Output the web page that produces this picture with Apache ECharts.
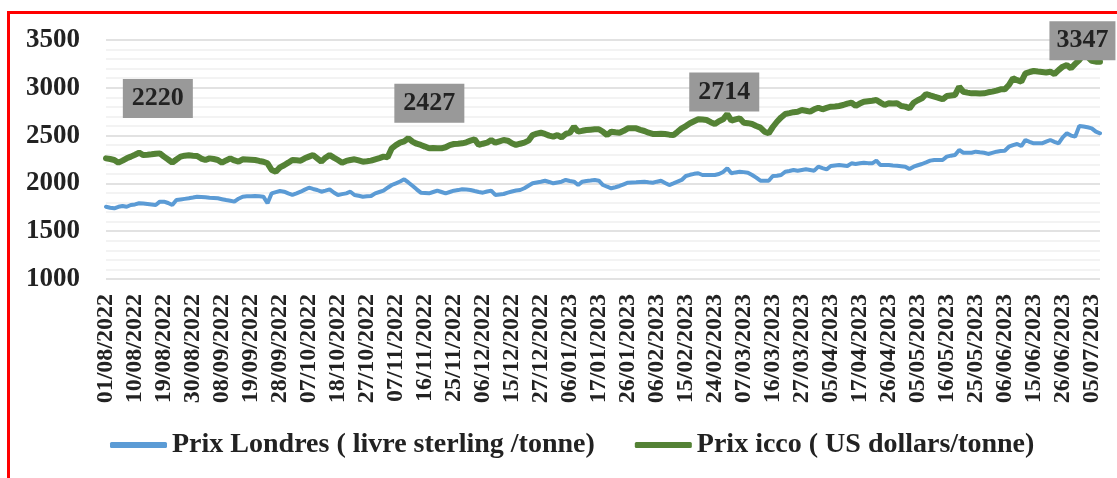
<!DOCTYPE html>
<html>
<head>
<meta charset="utf-8">
<script src="https://cdn.jsdelivr.net/npm/echarts@6/dist/echarts.min.js"></script>
<style>
  html, body { margin: 0; padding: 0; background: #fff; }
  #chart { width: 1117px; height: 478px; }
</style>
</head>
<body>
<div id="chart"></div>
<script>
// business days from 01/08/2022, a few market holidays skipped
const startDate = [2022, 7, 1];
const holidays = ['26/12/2022', '02/01/2023', '07/04/2023', '29/05/2023'];
const pointCount = 241;

// Prix Londres ( livre sterling /tonne)
const prixLondres = [
  1756, 1745, 1739, 1755, 1764, 1756, 1774, 1780, 1792, 1790,
  1785, 1780, 1774, 1809, 1809, 1795, 1774, 1826, 1832, 1838,
  1844, 1852, 1861, 1858, 1855, 1850, 1848, 1844, 1835, 1826,
  1818, 1809, 1840, 1861, 1865, 1866, 1868, 1865, 1861, 1792,
  1896, 1908, 1920, 1913, 1895, 1879, 1895, 1913, 1935, 1955,
  1942, 1931, 1913, 1925, 1938, 1905, 1879, 1888, 1896, 1913,
  1879, 1870, 1861, 1865, 1868, 1896, 1910, 1924, 1955, 1983,
  2001, 2020, 2043, 2010, 1975, 1938, 1903, 1900, 1896, 1910,
  1924, 1910, 1896, 1910, 1924, 1930, 1938, 1935, 1931, 1920,
  1910, 1903, 1915, 1924, 1879, 1885, 1889, 1903, 1915, 1925,
  1931, 1949, 1975, 2001, 2010, 2018, 2028, 2015, 2001, 2010,
  2018, 2036, 2025, 2018, 1983, 2018, 2025, 2030, 2036, 2028,
  1983, 1965, 1949, 1960, 1973, 1990, 2007, 2010, 2012, 2015,
  2018, 2012, 2007, 2018, 2028, 2005, 1983, 2000, 2018, 2036,
  2077, 2090, 2100, 2106, 2088, 2088, 2088, 2088, 2098, 2120,
  2158, 2106, 2115, 2122, 2118, 2112, 2088, 2060, 2028, 2028,
  2028, 2077, 2080, 2088, 2122, 2130, 2140, 2133, 2140, 2147,
  2140, 2133, 2175, 2160, 2147, 2182, 2188, 2192, 2188, 2182,
  2210, 2203, 2210, 2217, 2212, 2210, 2238, 2192, 2192, 2192,
  2188, 2185, 2180, 2175, 2150, 2175, 2190, 2203, 2220, 2238,
  2245, 2245, 2245, 2280, 2290, 2297, 2349, 2321, 2320, 2321,
  2332, 2326, 2321, 2308, 2320, 2332, 2338, 2342, 2384, 2400,
  2412, 2391, 2454, 2435, 2419, 2419, 2419, 2437, 2454, 2435,
  2419, 2482, 2524, 2500, 2489, 2600, 2595, 2587, 2576, 2541,
  2524
];

// Prix icco ( US dollars/tonne)
const prixIcco = [
  2262, 2255, 2245, 2217, 2238, 2262, 2280, 2300, 2321, 2297,
  2300, 2304, 2310, 2314, 2280, 2250, 2217, 2250, 2280, 2290,
  2294, 2290, 2287, 2260, 2245, 2262, 2255, 2245, 2217, 2240,
  2262, 2240, 2227, 2252, 2250, 2248, 2245, 2235, 2227, 2210,
  2140, 2122, 2168, 2190, 2217, 2245, 2242, 2238, 2262, 2280,
  2297, 2262, 2227, 2269, 2297, 2270, 2245, 2217, 2235, 2245,
  2252, 2240, 2227, 2232, 2238, 2252, 2265, 2280, 2273, 2367,
  2400, 2426, 2440, 2472, 2437, 2415, 2402, 2385, 2367, 2370,
  2367, 2367, 2378, 2400, 2412, 2415, 2419, 2430, 2447, 2461,
  2402, 2415, 2426, 2454, 2426, 2440, 2454, 2447, 2420, 2402,
  2415, 2426, 2447, 2506, 2520, 2530, 2517, 2500, 2489, 2506,
  2482, 2517, 2530, 2593, 2541, 2550, 2558, 2562, 2566, 2566,
  2540, 2506, 2541, 2535, 2530, 2550, 2576, 2576, 2576, 2560,
  2548, 2530, 2517, 2517, 2520, 2517, 2510, 2506, 2540, 2576,
  2600, 2629, 2650, 2670, 2668, 2663, 2640, 2621, 2650, 2670,
  2726, 2656, 2670, 2681, 2635, 2630, 2621, 2600, 2583, 2541,
  2524, 2590, 2645, 2690, 2726, 2735, 2745, 2750, 2768, 2760,
  2750, 2775, 2792, 2775, 2790, 2802, 2805, 2810, 2820, 2835,
  2844, 2810, 2835, 2855, 2860, 2865, 2872, 2845, 2820, 2838,
  2835, 2838, 2810, 2803, 2785, 2844, 2870, 2890, 2935, 2920,
  2907, 2895, 2880, 2914, 2920, 2925, 3011, 2959, 2950, 2942,
  2942, 2940, 2942, 2953, 2960, 2970, 2984, 2984, 3029, 3099,
  3080, 3064, 3152, 3165, 3176, 3170, 3165, 3160, 3168, 3144,
  3185, 3221, 3238, 3204, 3250, 3291, 3347, 3325, 3283, 3273,
  3273
];

// boxed annotations on the icco line
const noteIndex = [13, 73, 150, 236];
const noteText = ['2220', '2427', '2714', '3347'];
const noteOffset = [[-2, -55], [21, -35], [-3, -22], [-1, -14]];

const yTicks = [1000, 3500, 500];

function pad(n) { return n < 10 ? '0' + n : '' + n; }

const categories = [];
let d = new Date(startDate[0], startDate[1], startDate[2]);
while (categories.length < pointCount) {
  const wd = d.getDay();
  const s = pad(d.getDate()) + '/' + pad(d.getMonth() + 1) + '/' + d.getFullYear();
  if (wd !== 0 && wd !== 6 && holidays.indexOf(s) < 0) categories.push(s);
  d.setDate(d.getDate() + 1);
}

const serif = '"Liberation Serif", "Times New Roman", serif';
const nameLondres = 'Prix Londres ( livre sterling /tonne)';
const nameIcco = 'Prix icco ( US dollars/tonne)';

const chart = echarts.init(document.getElementById('chart'));
chart.setOption({
  animation: false,
  graphic: [{
    type: 'polyline',
    shape: { points: [[8.5, 478], [8.5, 12.5], [1117, 12.5]] },
    style: { stroke: '#ff0000', lineWidth: 3, fill: null }
  }],
  grid: {
    left: 106, right: 17, top: 40, bottom: 199,
    outerBoundsMode: 'none'
  },
  legend: {
    left: 110,
    top: 431,
    padding: 0,
    itemWidth: 57,
    itemHeight: 6,
    itemGap: 40,
    icon: 'roundRect',
    textStyle: { fontFamily: serif, fontWeight: 'bold', fontSize: 28, color: '#222' },
    data: [nameLondres, nameIcco]
  },
  xAxis: {
    type: 'category',
    boundaryGap: false,
    data: categories,
    axisLine: { show: false },
    axisTick: { show: false },
    axisLabel: {
      interval: 6,
      rotate: 90,
      margin: 15,
      fontFamily: serif,
      fontWeight: 'bold',
      fontSize: 24,
      color: '#222'
    }
  },
  yAxis: {
    type: 'value',
    min: yTicks[0],
    max: yTicks[1],
    interval: yTicks[2],
    axisLine: { show: false },
    axisTick: { show: false },
    axisLabel: {
      margin: 26,
      formatter: v => String(v),
      fontFamily: serif,
      fontWeight: 'bold',
      fontSize: 27,
      color: '#222'
    },
    splitLine: { lineStyle: { color: '#d9d9d9', width: 1.5 } },
    minorTick: { show: false, splitNumber: 5 },
    minorSplitLine: { show: true, lineStyle: { color: '#efefef', width: 1.5 } }
  },
  series: [
    {
      name: nameLondres,
      type: 'line',
      data: prixLondres,
      symbol: 'none',
      color: '#5b9bd5',
      lineStyle: { width: 4, color: '#5b9bd5', cap: 'round' }
    },
    {
      name: nameIcco,
      type: 'line',
      data: prixIcco,
      symbol: 'none',
      color: '#548235',
      lineStyle: { width: 6, color: '#548235', cap: 'round' },
      markPoint: {
        symbol: 'rect',
        itemStyle: { color: '#999999' },
        label: {
          show: true,
          position: 'inside',
          fontFamily: serif,
          fontWeight: 'bold',
          fontSize: 26,
          color: '#222'
        },
        data: noteIndex.map((idx, k) => ({
          coord: [categories[idx], prixIcco[idx]],
          value: noteText[k],
          symbolSize: [k === 3 ? 66 : 70, 39],
          symbolOffset: noteOffset[k]
        }))
      }
    }
  ]
});
</script>
</body>
</html>
